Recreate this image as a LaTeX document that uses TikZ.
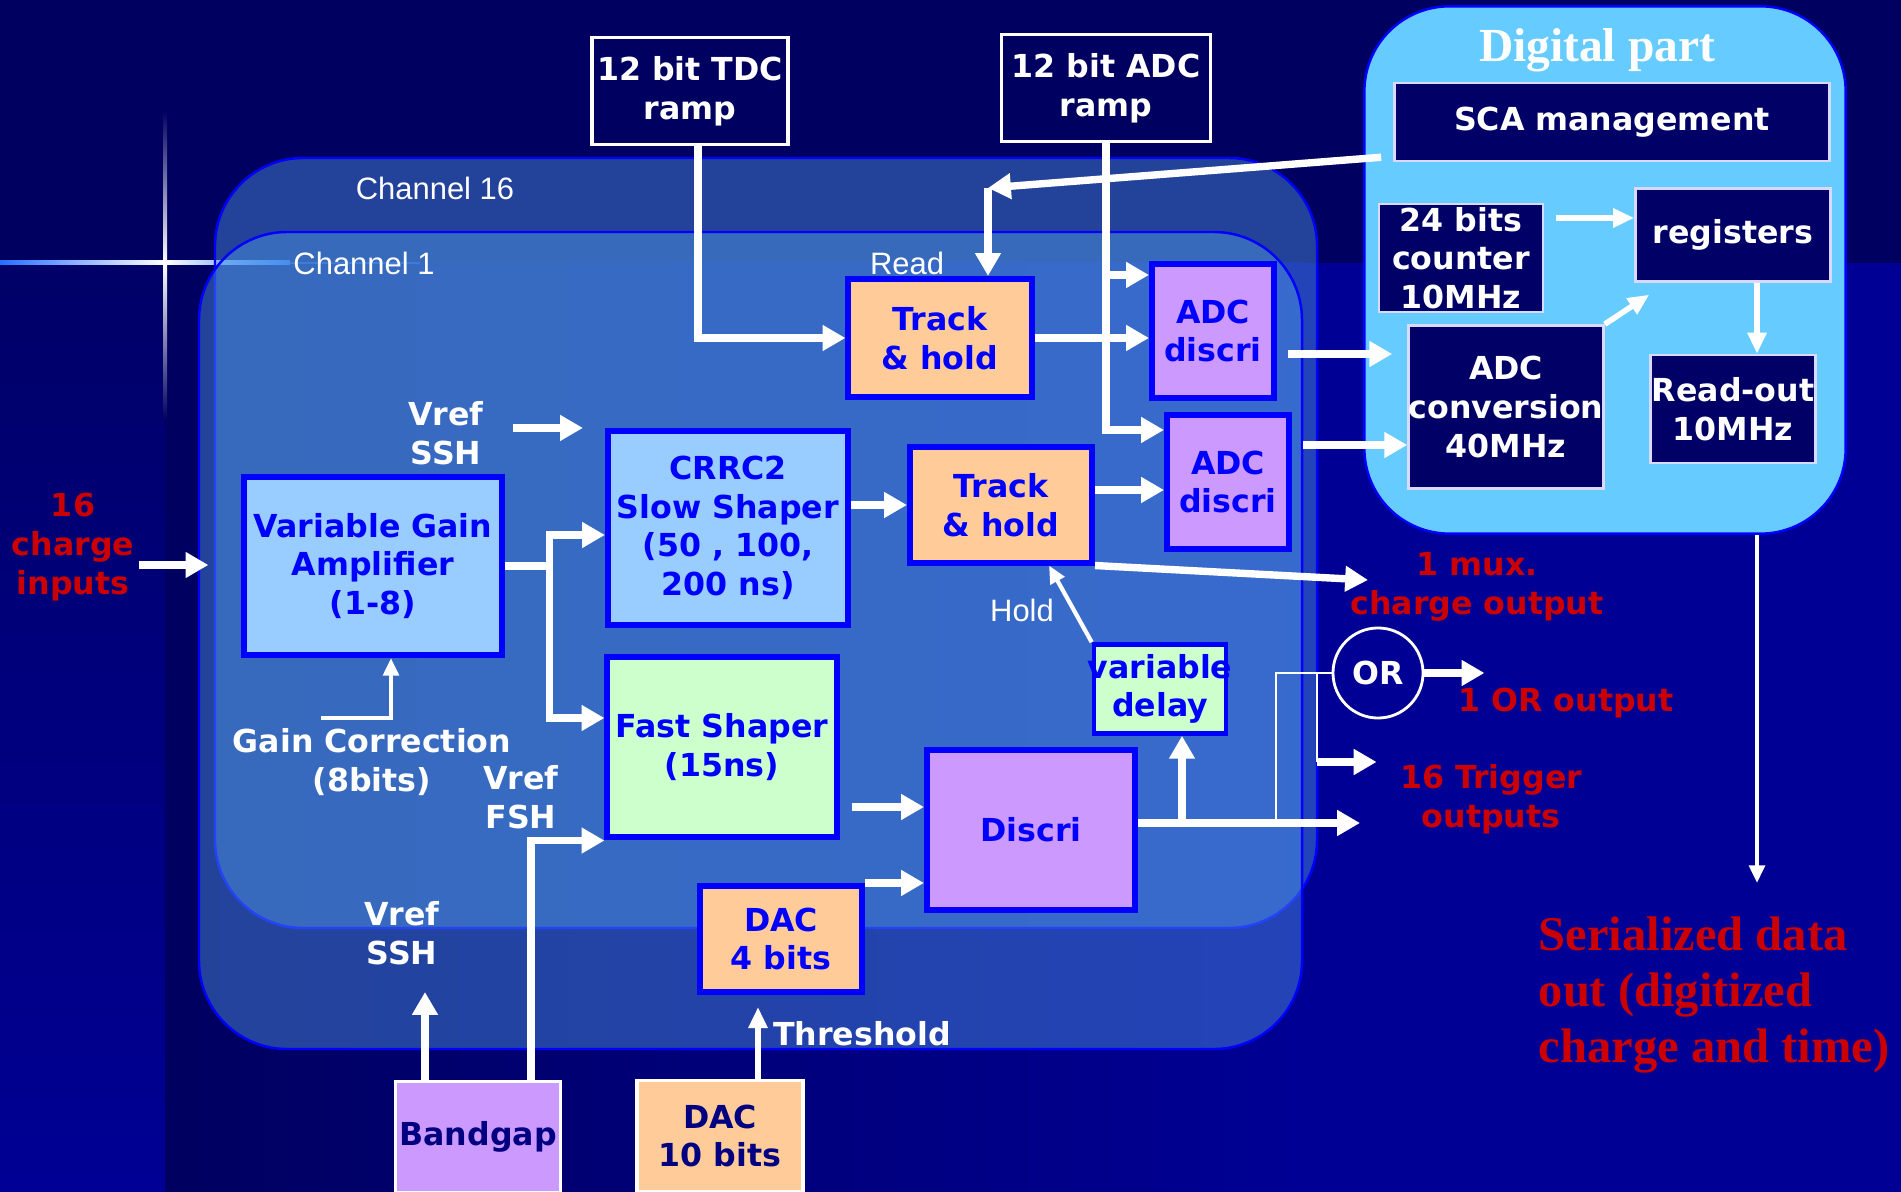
\documentclass[tikz,border=0pt]{standalone}
\usepackage{fontspec}
\setmainfont{DejaVu Sans}
\newfontfamily\timesfont{Liberation Serif}
\newfontfamily\arialfont{Liberation Sans}
\usetikzlibrary{positioning,arrows.meta,calc}
\definecolor{bgnavy}{RGB}{0,0,96}
\definecolor{bglow}{RGB}{0,0,148}
\definecolor{chanblue}{RGB}{85,160,235}
\definecolor{peach}{RGB}{255,204,153}
\definecolor{lilac}{RGB}{204,153,255}
\definecolor{skyblue}{RGB}{153,204,255}
\definecolor{mint}{RGB}{204,255,204}
\definecolor{digiblue}{RGB}{102,204,255}
\definecolor{darkred}{RGB}{204,0,0}
\definecolor{boxnavy}{RGB}{0,0,102}
\definecolor{txtnavy}{RGB}{0,0,128}
\definecolor{flare}{RGB}{40,110,255}

\begin{document}
\begin{tikzpicture}[x=0.01cm, y=-0.01cm, every node/.style={font=\fontsize{9}{11}\selectfont\bfseries}]
  \tikzset{
    blk/.style={draw=blue, line width=1.7pt, text=blue, align=center, inner sep=0pt},
    dblk/.style={draw=white!85!blue, line width=0.7pt, fill=boxnavy, text=white, align=center, inner sep=0pt},
    obox/.style={draw=white, line width=0.9pt, align=center, inner sep=0pt},
    chan/.style={draw=blue, line width=0.7pt, fill=chanblue, fill opacity=0.42, rounded corners=0.88cm},
    wlbl/.style={text=white, align=center},
    rlbl/.style={text=darkred, align=center},
    thinlbl/.style={text=white, font=\arialfont\fontsize{8.8}{10}\selectfont},
    wline/.style={draw=white, line width=2.1pt},
    warrow/.style={wline, -{Triangle[length=6.5pt, width=7pt]}},
    marrow/.style={draw=white, line width=1.6pt, -{Triangle[length=6pt, width=5.2pt]}},
    tarrow/.style={draw=white, line width=1.2pt, -{Triangle[length=5pt, width=4.4pt]}},
    bline/.style={draw=white, line width=0.6pt}
  }

  % Background
  \useasboundingbox (0,0) rectangle (1901,1192);
  \fill[bgnavy] (0,0) rectangle (1901,1192);
  \shade[left color=bgnavy, right color=bglow] (165,263) rectangle (1300,1192);
  \fill[bglow] (1300,263) rectangle (1901,1192);
  \shade[top color=bgnavy!85!bglow, bottom color=bglow] (0,263) rectangle (165,1192);
  \shade[left color=flare, right color=white] (0,261) rectangle (165,265);
  \shade[left color=white, right color=flare] (165,261) rectangle (290,265);
  \fill[flare, opacity=0.5] (290,262) rectangle (420,264);
  \shade[top color=bgnavy, bottom color=white] (163,110) rectangle (167,263);
  \shade[top color=white, bottom color=bgnavy] (163,263) rectangle (167,420);

  % Channels
  \draw[chan] (215,158) rectangle (1317,928);
  \draw[chan] (199,232) rectangle (1302,1049);
  \node[thinlbl] (ch16) at (435,188) {Channel 16};
  \node[thinlbl] (ch1) at (364,263) {Channel 1};

  % Digital part
  \node[draw=blue, line width=0.7pt, fill=digiblue, rounded corners=0.85cm,
        minimum width=4.81cm, minimum height=5.27cm] (digital) at (1605,270) {};
  \node[text=white, font=\timesfont\bfseries\fontsize{13.5}{16}\selectfont] (dtitle) at (1597,50) {Digital part};
  \node[dblk, minimum width=4.35cm, minimum height=0.78cm] (sca) at (1612,122) {SCA management};
  \node[dblk, minimum width=1.64cm, minimum height=1.08cm] (counter) at (1461,258) {24 bits\\counter\\10MHz};
  \node[dblk, minimum width=1.95cm, minimum height=0.93cm] (registers) at (1733,235) {registers};
  \node[dblk, minimum width=1.95cm, minimum height=1.63cm] (adcconv) at (1506,407) {ADC\\conversion\\40MHz};
  \node[dblk, minimum width=1.65cm, minimum height=1.08cm] (readout) at (1733,409) {Read-out\\10MHz};

  % Ramps
  \node[obox, text=white, minimum width=1.96cm, minimum height=1.07cm] (tdc) at (690,91) {12 bit TDC\\ramp};
  \node[obox, text=white, minimum width=2.09cm, minimum height=1.07cm] (adcramp) at (1106,88) {12 bit ADC\\ramp};

  % Analog chain
  \node[blk, fill=skyblue, minimum width=2.57cm, minimum height=1.78cm] (vga) at (373,566) {Variable Gain\\Amplifier\\(1-8)};
  \node[blk, fill=skyblue, minimum width=2.40cm, minimum height=1.94cm] (slow) at (728,528) {CRRC2\\Slow Shaper\\(50 , 100,\\200 ns)};
  \node[blk, fill=mint, minimum width=2.29cm, minimum height=1.79cm] (fast) at (722,747) {Fast Shaper\\(15ns)};
  \node[blk, fill=peach, minimum width=1.83cm, minimum height=1.18cm] (th1) at (940,338) {Track\\\& hold};
  \node[blk, fill=peach, minimum width=1.82cm, minimum height=1.15cm] (th2) at (1001,505) {Track\\\& hold};
  \node[blk, fill=lilac, minimum width=1.22cm, minimum height=1.34cm] (adc1) at (1213,331) {ADC\\discri};
  \node[blk, fill=lilac, minimum width=1.22cm, minimum height=1.34cm] (adc2) at (1228,482) {ADC\\discri};
  \node[blk, fill=mint, line width=1.3pt, minimum width=1.32cm, minimum height=0.89cm] (delay) at (1160,689) {\makebox[0pt]{variable}\\delay};
  \node[blk, fill=lilac, minimum width=2.08cm, minimum height=1.60cm] (discri) at (1031,830) {Discri};
  \node[blk, fill=peach, minimum width=1.62cm, minimum height=1.06cm] (dac4) at (781,939) {DAC\\4 bits};
  \node[obox, fill=lilac, text=txtnavy, minimum width=1.65cm, minimum height=1.11cm] (bandgap) at (478,1137) {Bandgap};
  \node[obox, fill=peach, text=txtnavy, minimum width=1.66cm, minimum height=1.11cm] (dac10) at (720,1136) {DAC\\10 bits};
  \node[draw=white, line width=0.8pt, circle, minimum size=0.9cm, inner sep=0pt, text=white] (or) at (1378,673) {OR};

  % Labels
  \node[wlbl] (vssh1) at (446,433) {Vref\\SSH};
  \node[wlbl] (gaincor) at (372,762) {Gain Correction\\(8bits)};
  \node[wlbl] (vfsh) at (521,797) {Vref\\FSH};
  \node[wlbl] (vssh2) at (402,933) {Vref\\SSH};
  \node[wlbl] (thrlbl) at (862,1034) {Threshold};
  \node[thinlbl] (readlbl) at (907,263) {Read};
  \node[thinlbl] (holdlbl) at (1022,610) {Hold};
  \node[rlbl] (inputs) at (73,547) {16\\charge\\inputs};
  \node[rlbl] (mux) at (1477,587) {1 mux.\\charge output};
  \node[rlbl] (orlbl) at (1566,703) {1 OR output};
  \node[rlbl] (trig) at (1491,799) {16 Trigger\\outputs};
  \node[rlbl, anchor=west, align=left, inner sep=0pt, font=\timesfont\bfseries\fontsize{13.8}{16}\selectfont] (serial) at (1538,995) {Serialized data\\out (digitized\\charge and time)};

  % Inputs and front end
  \coordinate (inA) at (139,565);
  \draw[warrow, shorten >=0.33cm] (inA) -- (inA -| vga.west);
  \coordinate (vgaJ) at ($(vga.east)+(45,0)$);
  \draw[wline] (vga.east) -- (vgaJ);
  \draw[warrow] (vgaJ) |- ($(slow.west)+(0,7)$);
  \draw[warrow] (vgaJ) |- ($(fast.west)+(0,-29)$);
  \coordinate (gcA) at (321,718);
  \draw[tarrow] (gcA) -| ($(vga.south)+(18,0)$);
  \coordinate (vsA) at ($(slow.north west)+(-92,0)$);
  \draw[warrow] (vsA) -- ($(slow.north west)+(-22,0)$);

  % Slow path
  \draw[warrow] ([xshift=0.08cm]tdc.south) |- (th1.west);
  \draw[warrow] (slow.east |- th2.west) -- (th2.west);
  \draw[warrow] (th1.east) -- (th1.east -| adc1.west);
  \draw[warrow] ($(th2.east)+(0,-15)$) -- ($(adc2.west)+(0,8)$);
  \coordinate (muxA) at (1368,580);
  \draw[warrow] (th2.south east) -- (muxA);
  \coordinate (rA) at ($(adc1.north west)+(0,14)$);
  \coordinate (rB) at ($(adc2.north west)+(0,18)$);
  \draw[warrow] (adcramp.south) |- (rB);
  \draw[warrow] (adcramp.south |- rA) -- (rA);
  \coordinate (rd) at ($(th1.north)+(48,-88)$);
  \draw[warrow] ($(sca.south west)+(-12,-5)$) -- (rd);
  \draw[warrow] (rd) -- (rd |- th1.north);
  \draw[tarrow] (delay.north west) -- ($(th2.south)+(48,0)$);

  % Fast path
  \coordinate (fdA) at ($(fast.east)+(12,60)$);
  \draw[warrow] (fdA) -- (fdA -| discri.west);
  \draw[warrow] (dac4.north east) -- (dac4.north east -| discri.west);
  \coordinate (thrA) at ($(dac4.south)+(-23,12)$);
  \draw[marrow] (thrA |- dac10.north) -- (thrA);
  \coordinate (dOut) at ($(discri.east)+(0,-7)$);
  \coordinate (trigA) at (1360,823);
  \draw[warrow] (dOut) -- (trigA);
  \coordinate (dlA) at ($(delay.south)+(22,0)$);
  \draw[warrow] (dlA |- dOut) -- (dlA);
  \draw[bline] ($(dOut)+(138,0)$) |- (or.west);
  \coordinate (busA) at ($(or.west)+(-15,0)$);
  \coordinate (trigB) at ($(busA)+(60,89)$);
  \draw[bline] (busA) -- (busA |- trigB);
  \draw[warrow] (busA |- trigB) -- (trigB);
  \coordinate (orA) at ($(or.east)+(60,0)$);
  \draw[warrow] (or.east) -- (orA);

  % Bandgap references
  \coordinate (vsB) at (425,992);
  \draw[warrow] (vsB |- bandgap.north) -- (vsB);
  \draw[warrow] ($(bandgap.north)+(53,0)$) |- ($(fast.south west)+(0,1)$);

  % Digital part arrows
  \draw[warrow, shorten >=0.15cm] ($(adc1.east)+(11,23)$) -- ($(adcconv.west)+(0,-53)$);
  \draw[warrow] ($(adc2.east)+(11,-37)$) -- ($(adcconv.west)+(0,38)$);
  \coordinate (cA) at ($(counter.east)+(12,-40)$);
  \draw[marrow] (cA) -- (cA -| registers.west);
  \draw[marrow] (adcconv.north east) -- ($(registers.south west)+(15,12)$);
  \coordinate (rgA) at ($(registers.south)+(24,0)$);
  \draw[marrow] (rgA) -- (rgA |- readout.north);
  \coordinate (serA) at (1757,883);
  \draw[tarrow] (digital.south -| serA) -- (serA);
\end{tikzpicture}
\end{document}
